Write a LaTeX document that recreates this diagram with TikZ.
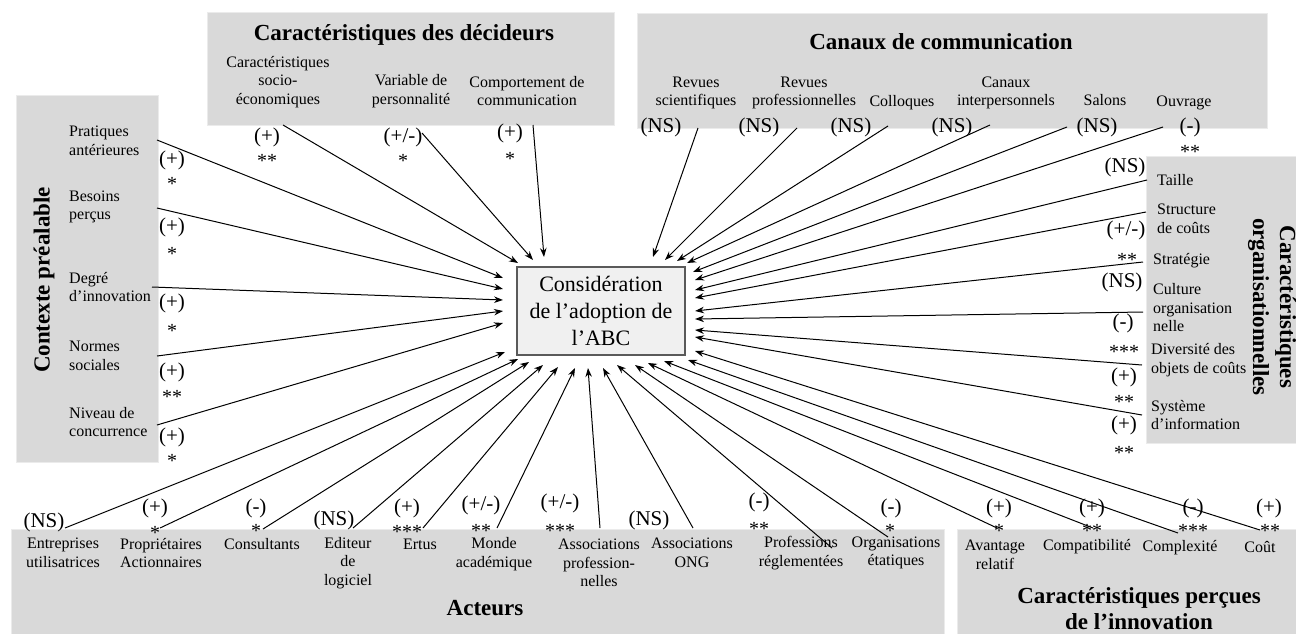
\documentclass[tikz,border=0pt]{standalone}
\usepackage{fontspec}
\setmainfont{Liberation Serif}
\usetikzlibrary{arrows.meta}
\definecolor{boxgray}{HTML}{D9D9D9}
\definecolor{boxedge}{HTML}{EBEBEB}
\definecolor{centerfill}{HTML}{F0F0F0}
\definecolor{centeredge}{HTML}{5A5A5A}
\tikzset{
  groupbox/.style={fill=boxgray, draw=boxedge, line width=1pt},
  item/.style={font=\fontsize{16}{18.5}\selectfont, align=center, inner sep=0pt},
  iteml/.style={font=\fontsize{16}{18.5}\selectfont, align=left, anchor=west, inner sep=0pt},
  sig/.style={font=\fontsize{21}{21}\selectfont, inner sep=0pt, anchor=base},
  star/.style={font=\fontsize{20}{20}\selectfont, inner sep=0pt, anchor=base},
  ttl/.style={font=\bfseries\fontsize{23}{26}\selectfont, align=center, inner sep=0pt},
  arr/.style={-{Stealth[length=9pt,width=6.5pt]}, line width=1pt, black},
}
\begin{document}
\begin{tikzpicture}[x=1pt,y=-1pt]
\useasboundingbox (0,0) rectangle (1296,633);
% group boxes
\path[groupbox] (16,95) rectangle (158,462);
\path[groupbox] (207,12) rectangle (614,125);
\path[groupbox] (637,13) rectangle (1267,128);
\path[groupbox] (1146,156) rectangle (1310,443);
\path[groupbox] (11,529) rectangle (944,645);
\path[groupbox] (957,529) rectangle (1310,645);

% centre
\node[draw=centeredge, line width=1.8pt, fill=centerfill, minimum width=168pt, minimum height=88pt,
      inner sep=0pt, align=center, font=\fontsize{22}{27}\selectfont] (c) at (601,311)
      {Considération\\de l’adoption de\\l’ABC};

% titles
\node[ttl, rotate=90] (tctx) at (44,280) {Contexte préalable};
\node[ttl] (tdec) at (404,35) {Caractéristiques des décideurs};
\node[ttl] (tcan) at (941,42) {Canaux de communication};
\node[ttl, rotate=-90, font=\bfseries\fontsize{23}{27}\selectfont] (torg) at (1272,307) {Caractéristiques\\organisationnelles};
\node[ttl] (tact) at (485,608) {Acteurs};
\node[ttl] (tper) at (1139,609) {Caractéristiques perçues\\de l’innovation};

% contexte items
\node[iteml] (i1) at (69,141) {Pratiques\\antérieures};
\node[iteml] (i2) at (69,207) {Besoins\\perçus};
\node[iteml] (i3) at (69,287) {Degré\\d’innovation};
\node[iteml] (i4) at (69,356) {Normes\\sociales};
\node[iteml] (i5) at (69,422) {Niveau de\\concurrence};
% decideurs items
\node[item] (i6) at (278,82) {Caractéristiques\\socio-\\économiques};
\node[item] (i7) at (411,91) {Variable de\\personnalité};
\node[item] (i8) at (527,91) {Comportement de\\communication};
% canaux items
\node[item] (i9) at (696,93) {Revues\\scientifiques};
\node[item] (i10) at (804,93) {Revues\\professionnelles};
\node[item] (i11) at (902,103) {Colloques};
\node[item] (i12) at (1006,93) {Canaux\\interpersonnels};
\node[item] (i13) at (1105,100) {Salons};
\node[item] (i14) at (1184,103) {Ouvrage};
% org items
\node[iteml] (i15) at (1157,180) {Taille};
\node[iteml] (i16) at (1157,219) {Structure\\de coûts};
\node[iteml] (i17) at (1153,261) {Stratégie};
\node[iteml] (i18) at (1153,308) {Culture\\organisation\\nelle};
\node[iteml] (i19) at (1151,360) {Diversité des\\objets de coûts};
\node[iteml] (i20) at (1151,415) {Système\\d’information};
% percues items
\node[item] (i21) at (1260,547) {Coût};
\node[item] (i22) at (1180,548) {Complexité};
\node[item] (i23) at (1087,547) {Compatibilité};
\node[item] (i24) at (995,555) {Avantage\\relatif};
% acteurs items
\node[item] (i25) at (896,553) {Organisations\\étatiques};
\node[item] (i26) at (801,553) {Professions\\réglementées};
\node[item] (i27) at (692,553) {Associations\\ONG};
\node[item] (i28) at (599,563) {Associations\\profession-\\nelles};
\node[item] (i29) at (494,554) {Monde\\académique};
\node[item] (i30) at (420,544) {Ertus};
\node[item] (i31) at (348,563) {Editeur\\de\\logiciel};
\node[item] (i32) at (262,544) {Consultants};
\node[item] (i33) at (161,553) {Propriétaires\\Actionnaires};
\node[item] (i34) at (63,553) {Entreprises\\utilisatrices};

% connectors
\foreach \n/\sx/\sy/\tx/\ty in {
  1/157/425/503/323, 2/157/356/503/311, 3/152/287/503/300, 4/157/208/503/289, 5/157/140/503/278,
  6/283/125/518/263, 7/422/133/533/260, 8/533/125/544/257,
  9/698/128/653/257, 10/797/128/665/260, 11/888/126/677/261, 12/990/125/687/263,
  13/1067/127/693/272, 14/1163/127/695/280,
  15/1147/180/695/290, 16/1146/212/695/298, 17/1143/262/695/311, 18/1143/312/695/319,
  19/1142/365/695/330, 20/1142/415/695/337,
  21/1260/530/695/351, 22/1178/533/688/360, 23/1093/528/664/361, 24/997/528/648/363,
  25/888/537/635/365, 26/832/548/617/365, 27/693/528/603/368, 28/600/528/588/368,
  29/497/528/575/368, 30/423/528/558/367, 31/353/528/543/365, 32/263/529/529/362,
  33/160/528/518/359, 34/65/528/505/352}{
  \coordinate (s\n) at (\sx,\sy);
  \coordinate (t\n) at (\tx,\ty);
  \draw[arr] (s\n) -- (t\n);
}

% significance labels: contexte
\node[sig] (g5) at (172,165) {(+)};  \node[star] (k5) at (172,190) {*};
\node[sig] (g4) at (172,232) {(+)};  \node[star] (k4) at (172,260) {*};
\node[sig] (g3) at (172,308) {(+)};  \node[star] (k3) at (172,337) {*};
\node[sig] (g2) at (172,377) {(+)};  \node[star] (k2) at (172,403) {**};
\node[sig] (g1) at (172,442) {(+)};  \node[star] (k1) at (172,467) {*};
% decideurs
\node[sig] (g6) at (267,142) {(+)};   \node[star] (k6) at (267,167) {**};
\node[sig] (g7) at (403,142) {(+/-)}; \node[star] (k7) at (403,167) {*};
\node[sig] (g8) at (510,138) {(+)};   \node[star] (k8) at (510,165) {*};
% canaux
\node[sig] (g9) at (661,132) {(NS)};
\node[sig] (g10) at (759,132) {(NS)};
\node[sig] (g11) at (851,132) {(NS)};
\node[sig] (g12) at (952,132) {(NS)};
\node[sig] (g13) at (1097,132) {(NS)};
\node[sig] (g14) at (1190,132) {(-)}; \node[star] (k14) at (1190,158) {**};
% org
\node[sig] (g15) at (1125,172) {(NS)};
\node[sig] (g16) at (1126,235) {(+/-)}; \node[star] (k16) at (1127,266) {**};
\node[sig] (g17) at (1122,287) {(NS)};
\node[sig] (g18) at (1123,328) {(-)};   \node[star] (k18) at (1124,358) {***};
\node[sig] (g19) at (1124,382) {(+)};   \node[star] (k19) at (1124,408) {**};
\node[sig] (g20) at (1124,430) {(+)};   \node[star] (k20) at (1124,459) {**};
% percues
\node[sig] (g21) at (1269,513) {(+)}; \node[star] (k21) at (1270,537) {**};
\node[sig] (g22) at (1193,513) {(-)}; \node[star] (k22) at (1193,537) {***};
\node[sig] (g23) at (1092,513) {(+)}; \node[star] (k23) at (1092,537) {**};
\node[sig] (g24) at (999,513) {(+)};  \node[star] (k24) at (999,537) {*};
% acteurs
\node[sig] (g25) at (891,513) {(-)};   \node[star] (k25) at (890,537) {*};
\node[sig] (g26) at (759,507) {(-)};   \node[star] (k26) at (759,535) {**};
\node[sig] (g27) at (649,525) {(NS)};
\node[sig] (g28) at (560,508) {(+/-)}; \node[star] (k28) at (560,537) {***};
\node[sig] (g29) at (481,510) {(+/-)}; \node[star] (k29) at (481,537) {**};
\node[sig] (g30) at (407,513) {(+)};   \node[star] (k30) at (407,538) {***};
\node[sig] (g31) at (334,525) {(NS)};
\node[sig] (g32) at (256,513) {(-)};   \node[star] (k32) at (256,537) {*};
\node[sig] (g33) at (155,513) {(+)};   \node[star] (k33) at (155,539) {*};
\node[sig] (g34) at (44,527) {(NS)};
\end{tikzpicture}
\end{document}
